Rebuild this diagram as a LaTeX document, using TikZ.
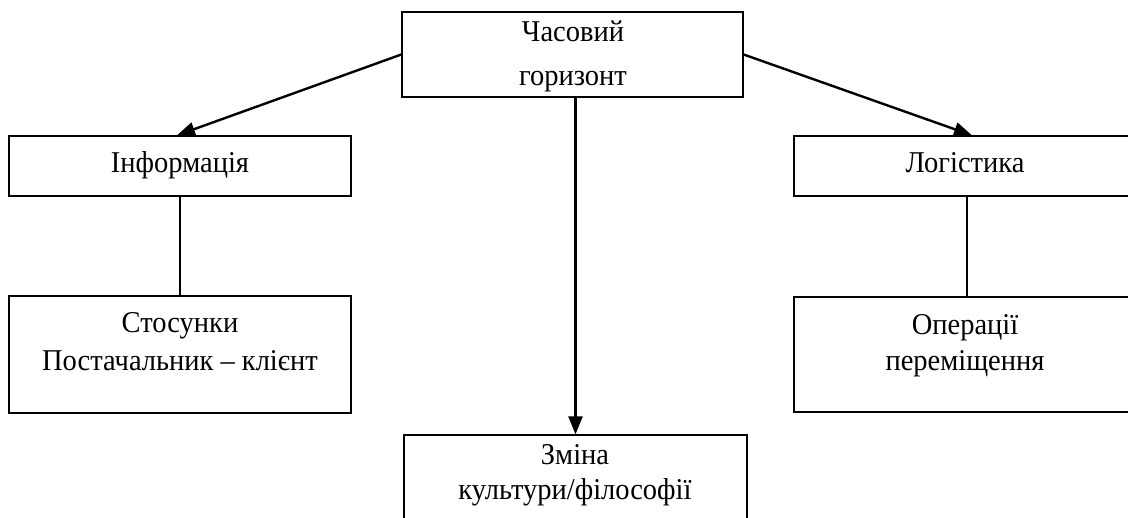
\documentclass[tikz,border=0pt]{standalone}
\usepackage{fontspec}
\setmainfont{Liberation Serif}
\usetikzlibrary{arrows.meta}
\begin{document}
\begin{tikzpicture}[x=1pt,y=-1pt,
  box/.style={draw, line width=1.3pt, inner sep=0pt, rectangle},
  lbl/.style={anchor=base, inner sep=0pt, font=\fontsize{28.5}{32}\selectfont, yscale=1.06, transform shape},
  arr/.style={line width=2.4pt, -{Triangle[length=18pt,width=14pt]}},
  thin/.style={line width=1.1pt}]
\useasboundingbox (0,0) rectangle (1128,518);
\clip (0,0) rectangle (1128,518);
\fill[white] (0,0) rectangle (1128,518);
% boxes
\node[box, minimum width=341pt, minimum height=85pt] (top) at (572.5,54.5) {};
\node[box, minimum width=342pt, minimum height=60pt] (info) at (180,166) {};
\node[box, minimum width=342pt, minimum height=60pt] (logi) at (965,166) {};
\node[box, minimum width=342pt, minimum height=117pt] (rel) at (180,354.5) {};
\node[box, minimum width=342pt, minimum height=115pt] (ops) at (965,354.5) {};
\node[box, minimum width=343pt, minimum height=110pt] (cult) at (575.5,490) {};
% texts
\node[lbl] (t1) at (573,42) {Часовий};
\node[lbl] (t2) at (573,86) {горизонт};
\node[lbl] (t3) at (180,173) {Інформація};
\node[lbl] (t4) at (965,173) {Логістика};
\node[lbl] (t5) at (180,333) {Стосунки};
\node[lbl] (t6) at (180,371) {Постачальник – клієнт};
\node[lbl] (t7) at (965,335) {Операції};
\node[lbl] (t8) at (965,371) {переміщення};
\node[lbl] (t9) at (575,465) {Зміна};
\node[lbl] (t10) at (575,500) {культури/філософії};
% connectors
\draw[arr] (top.west) -- ([xshift=-3pt]info.north);
\draw[arr] (top.east) -- ([xshift=7pt]logi.north);
\draw[arr] (top.south -| cult.north) -- (cult.north);
\draw[thin] (info.south) -- (rel.north);
\draw[thin] ([xshift=2pt]logi.south) -- ([xshift=2pt]ops.north);
\end{tikzpicture}
\end{document}
